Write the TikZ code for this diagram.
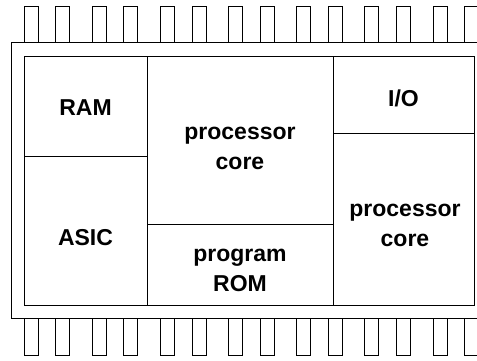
\documentclass[tikz,border=0pt]{standalone}
\usepackage{fontspec}
\setmainfont{Liberation Sans}
\begin{document}
\begin{tikzpicture}[x=1pt,y=-1pt,line width=1pt,
  lbl/.style={font=\fontsize{23}{30}\selectfont\bfseries, align=center, anchor=base, inner sep=0pt},
  pinbox/.style={draw=black, line width=1pt},
  part/.style={draw=black, line width=1pt}]
\useasboundingbox (0,0) rectangle (477,360);
\fill[white] (0,0) rectangle (477,360);
\clip (0,0) rectangle (477,360);
% pins
\foreach \i in {0,...,6} {
  \foreach \o in {0,31.7} {
    \draw[pinbox] (24+\i*68.17+\o,42) rectangle ++(14,-36);
    \draw[pinbox] (24+\i*68.17+\o,318.5) rectangle ++(14,37);
  }
}
% package outline (open to the right)
\coordinate (otr) at (495,42);
\coordinate (otl) at (11,42);
\coordinate (obl) at (11,318.5);
\coordinate (obr) at (495,318.5);
\draw[part] (otr) -- (otl) -- (obl) -- (obr);
% die
\coordinate (dtl) at (24,56);
\coordinate (dbr) at (474,305);
\draw[part] (dtl) rectangle (dbr);
\draw[part] (147,56) -- (147,305);
\draw[part] (333,56) -- (333,305);
\draw[part] (24,156) -- (147,156);
\draw[part] (147,224) -- (333,224);
\draw[part] (333,133) -- (474,133);
% labels (multi-line nodes: base = baseline of last line)
\node[lbl] (ram) at (85.5,115) {RAM};
\node[lbl] (asic) at (85.5,245.5) {ASIC};
\node[lbl] (core1) at (240,169) {processor\\core};
\node[lbl] (rom) at (240,291.7) {program\\ROM};
\node[lbl] (io) at (403.5,106) {I/O};
\node[lbl] (core2) at (405,246.7) {processor\\core};
\end{tikzpicture}
\end{document}
